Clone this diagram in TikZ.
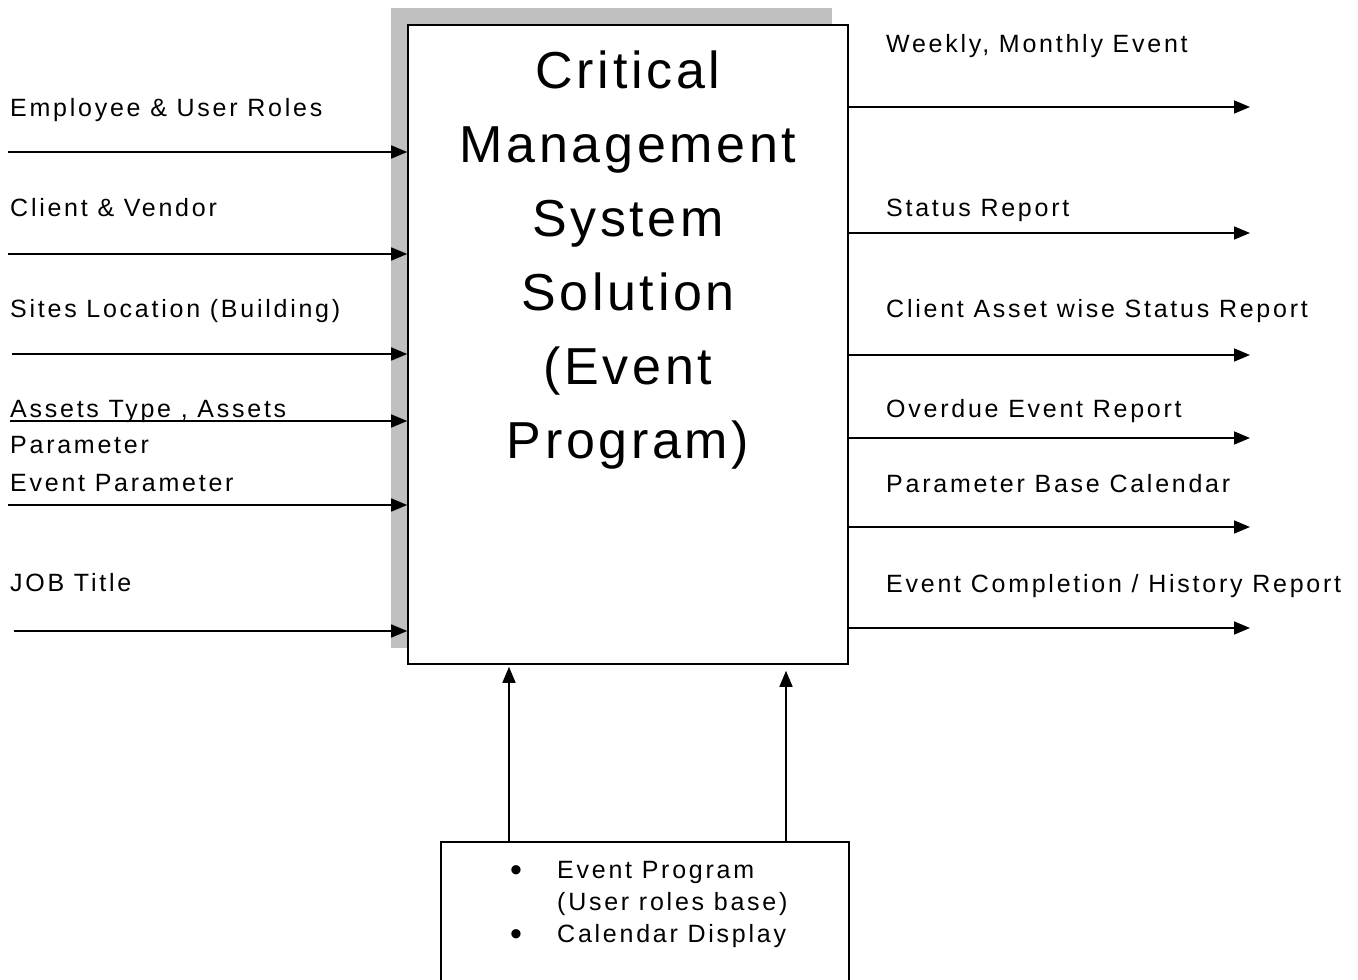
\documentclass[tikz,border=0pt]{standalone}
\usepackage{fontspec}
\setmainfont{Liberation Sans}
\newfontfamily\labfont[LetterSpace=11]{Liberation Sans}
\newfontfamily\titlefont[LetterSpace=7]{Liberation Sans}
\usepackage{tikz}
\usetikzlibrary{positioning,arrows.meta}
\definecolor{shadowgray}{HTML}{C0C0C0}
\newcommand{\progbullet}{\makebox[47pt][l]{\raisebox{-3pt}{\fontsize{34}{32}\selectfont\textbullet}}}

\begin{document}
\begin{tikzpicture}[x=1pt,y=-1pt,
    every node/.style={inner sep=0pt},
    box/.style={draw,line width=1.6pt,fill=white},
    flow/.style={-{Triangle[length=16pt,width=13pt]},line width=1.6pt},
    lab/.style={anchor=base west,align=left,font=\labfont\fontsize{25}{36}\selectfont}]
  \useasboundingbox (0,0) rectangle (1358,980);
  % system box with its shadow
  \fill[shadowgray] (391,8) rectangle (832,648);
  \node[box,minimum width=440pt,minimum height=639pt] (sys) at (628,344.5) {};
  \node[anchor=north,align=center,font=\titlefont\fontsize{52}{74}\selectfont] (title) at (628,51)
    {Critical\\Management\\System\\Solution\\(Event\\Program)};
  % inputs
  \node[lab] (emp) at (10,116) {Employee \& User Roles};
  \node[lab] (client) at (10,216) {Client \& Vendor};
  \node[lab] (site) at (10,317) {Sites Location (Building)};
  \node[lab] (asset) at (10,453) {Assets Type , Assets\\Parameter};
  \node[lab] (eventp) at (10,491) {Event Parameter};
  \node[lab] (job) at (10,591) {JOB Title};
  \foreach \x/\y [count=\i] in {8/152,8/254,12/354,10/421,8/505,14/631} {
    \coordinate (in\i) at (\x,\y);
    \draw[flow] (in\i) -- (in\i -| sys.west);
  }
  % outputs
  \node[lab] (weekly) at (886,52) {Weekly, Monthly Event};
  \node[lab] (status) at (886,216) {Status Report};
  \node[lab] (clientrep) at (886,317) {Client Asset wise Status Report};
  \node[lab] (overdue) at (886,417) {Overdue Event Report};
  \node[lab] (calendar) at (886,492) {Parameter Base Calendar};
  \node[lab] (history) at (886,592) {Event Completion / History Report};
  \foreach \y [count=\i] in {107,233,355,438,527,628} {
    \coordinate (out\i) at (1250,\y);
    \draw[flow] (out\i -| sys.east) -- (out\i);
  }
  % program box below
  \node[box,anchor=north west,minimum width=408pt,minimum height=150pt] (prog) at (440,841) {};
  \node[anchor=north west,align=left,font=\labfont\fontsize{25}{32}\selectfont] (progtext) at (510,861)
    {\progbullet Event Program\\
     \hspace*{47pt}(User roles base)\\
     \progbullet Calendar Display};
  \coordinate (up1) at (509,841);
  \coordinate (up2) at (786,843);
  \draw[flow,shorten >=2pt] (up1) -- (up1 |- sys.south);
  \draw[flow,shorten >=6pt] (up2) -- (up2 |- sys.south);
\end{tikzpicture}
\end{document}
